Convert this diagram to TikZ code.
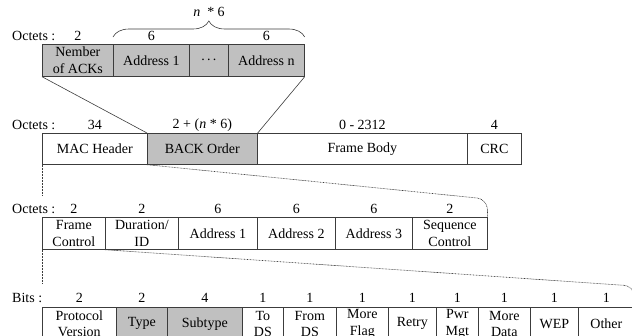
\documentclass[tikz,border=0pt]{standalone}
\usepackage{fontspec}
\setmainfont{Liberation Serif}
\usetikzlibrary{decorations.pathreplacing}
\definecolor{cellgray}{RGB}{192,192,192}
\definecolor{linegray}{RGB}{60,60,60}
\begin{document}
\begin{tikzpicture}[x=1pt,y=-1pt,
  font=\fontsize{14}{16.5}\selectfont,
  cell/.style={draw=linegray, line width=0.7pt, anchor=north west, inner sep=0pt, align=center},
  shade/.style={fill=cellgray},
  lbl/.style={inner sep=0pt},
  conn/.style={draw=linegray, line width=0.6pt},
  dotl/.style={draw=linegray, line width=0.6pt, dash pattern=on 0.8pt off 0.7pt}]
\useasboundingbox (0,0) rectangle (632,335);
\clip (0,0) rectangle (632,335);
% row 1
\node[cell, shade, minimum width=71pt, minimum height=32pt] (nack) at (42,44) {Nember\\of ACKs};
\node[cell, shade, minimum width=76pt, minimum height=32pt] (addr1) at (113,44) {Address 1};
\node[cell, shade, minimum width=39pt, minimum height=32pt] (dots) at (189,44) {.\,.\,.};
\node[cell, shade, minimum width=76pt, minimum height=32pt] (addrn) at (228,44) {Address n};
\coordinate (r1) at (0,36);
\node[lbl, anchor=west] (o1) at (12,36) {Octets :};
\node[lbl] (n1a) at (nack.center |- r1) {2};
\node[lbl] (n1b) at (addr1.center |- r1) {6};
\node[lbl] (n1c) at (addrn.center |- r1) {6};
\draw[conn, decorate, decoration={brace, amplitude=16pt}] ([yshift=7pt]addr1.north west) -- ([yshift=7pt]addrn.north east);
\node[lbl] (nsix) at (209,12) {\textit{n}\enspace* 6};
% row 2
\node[cell, minimum width=105pt, minimum height=31pt] (mac) at (42,133) {MAC Header};
\node[cell, shade, minimum width=110pt, minimum height=31pt] (back) at (147,133) {BACK Order};
\node[cell, minimum width=210pt, minimum height=31pt] (body) at (257,133) {Frame Body};
\node[cell, minimum width=54pt, minimum height=31pt] (crc) at (467,133) {CRC};
\coordinate (r2) at (0,125);
\node[lbl, anchor=west] (o2) at (12,125) {Octets :};
\node[lbl] (n2a) at (mac.center |- r2) {34};
\node[lbl] (n2b) at (back.center |- r2) {2 + (\textit{n} * 6)};
\node[lbl] (n2c) at (body.center |- r2) {0 - 2312};
\node[lbl] (n2d) at (crc.center |- r2) {4};
\draw[conn] (nack.south west) -- (back.north west);
\draw[conn] (addrn.south east) -- (back.north east);
% row 3
\node[cell, minimum width=63pt, minimum height=32pt] (fc) at (42,217) {Frame\\Control};
\node[cell, minimum width=73pt, minimum height=32pt] (dur) at (105,217) {Duration/\\ID};
\node[cell, minimum width=79pt, minimum height=32pt] (a1) at (178,217) {Address 1};
\node[cell, minimum width=78pt, minimum height=32pt] (a2) at (257,217) {Address 2};
\node[cell, minimum width=77pt, minimum height=32pt] (a3) at (335,217) {Address 3};
\node[cell, minimum width=75pt, minimum height=32pt] (sc) at (412,217) {Sequence\\Control};
\coordinate (r3) at (0,209);
\node[lbl, anchor=west] (o3) at (12,209) {Octets :};
\node[lbl] at (fc.center |- r3) {2};
\node[lbl] at (dur.center |- r3) {2};
\node[lbl] at (a1.center |- r3) {6};
\node[lbl] at (a2.center |- r3) {6};
\node[lbl] at (a3.center |- r3) {6};
\node[lbl] at (sc.center |- r3) {2};
\coordinate (c1) at (42,195);
\draw[dotl] (mac.south west) -- (c1);
\coordinate (k1) at (487,199);
\draw[dotl, rounded corners=10pt] (back.south west) -- (k1) -- (sc.north east);
% row 4
\node[cell, minimum width=74pt, minimum height=33pt] (pv) at (42,307) {Protocol\\Version};
\node[cell, shade, minimum width=51pt, minimum height=33pt] (type) at (116,307) {Type};
\node[cell, shade, minimum width=75pt, minimum height=33pt] (sub) at (167,307) {Subtype};
\node[cell, minimum width=41pt, minimum height=33pt] (tods) at (242,307) {To\\DS};
\node[cell, minimum width=53pt, minimum height=33pt] (fromds) at (283,307) {From\\DS};
\node[cell, minimum width=52pt, minimum height=33pt] (mflag) at (336,307) {More\\Flag};
\node[cell, minimum width=48pt, minimum height=33pt] (retry) at (388,307) {Retry};
\node[cell, minimum width=42pt, minimum height=33pt] (pwr) at (436,307) {Pwr\\Mgt};
\node[cell, minimum width=52pt, minimum height=33pt] (mdata) at (478,307) {More\\Data};
\node[cell, minimum width=48pt, minimum height=33pt] (wep) at (530,307) {WEP};
\node[cell, minimum width=56pt, minimum height=33pt] (other) at (578,307) {Other};
\coordinate (r4) at (0,298);
\node[lbl, anchor=west] (o4) at (12,298) {Bits :};
\node[lbl] at (pv.center |- r4) {2};
\node[lbl] at (type.center |- r4) {2};
\node[lbl] at (sub.center |- r4) {4};
\node[lbl] at (tods.center |- r4) {1};
\node[lbl] at (fromds.center |- r4) {1};
\node[lbl] at (mflag.center |- r4) {1};
\node[lbl] at (retry.center |- r4) {1};
\node[lbl] at (pwr.center |- r4) {1};
\node[lbl] at (mdata.center |- r4) {1};
\node[lbl] at (wep.center |- r4) {1};
\node[lbl] at (other.center |- r4) {1};
\coordinate (c2) at (42,283);
\draw[dotl] (fc.south west) -- (c2);
\coordinate (k2) at (634,286);
\draw[dotl, rounded corners=10pt] (dur.south west) -- (k2) -- (other.north east);
\end{tikzpicture}
\end{document}
